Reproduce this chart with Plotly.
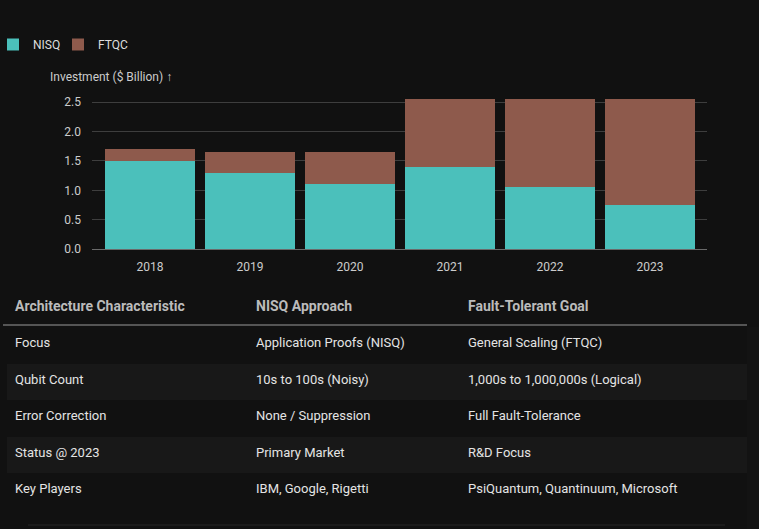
import plotly.graph_objects as go

W, H = 759, 529

years = ["2018", "2019", "2020", "2021", "2022", "2023"]
nisq = [1.5, 1.3, 1.1, 1.4, 1.05, 0.75]
ftqc = [0.2, 0.35, 0.55, 1.15, 1.5, 1.8]
y_ticks = [0.0, 0.5, 1.0, 1.5, 2.0, 2.5]

table_header = ["Architecture Characteristic", "NISQ Approach", "Fault-Tolerant Goal"]
col_characteristic = ["Focus", "Qubit Count", "Error Correction", "Status @ 2023", "Key Players"]
col_nisq = ["Application Proofs (NISQ)", "10s to 100s (Noisy)", "None / Suppression",
            "Primary Market", "IBM, Google, Rigetti"]
col_ftqc = ["General Scaling (FTQC)", "1,000s to 1,000,000s (Logical)", "Full Fault-Tolerance",
            "R&amp;D Focus", "PsiQuantum, Quantinuum, Microsoft"]

BG = "#111111"
ALT = "#181818"
TEAL = "#4BC0BB"
BROWN = "#8E5A4C"
FONT = "Roboto, Open Sans, sans-serif"

def px_x(p):
    return p / W

def px_y(p):
    return (H - p) / H

def styled(col):
    return ["<span>%s</span>" % v for v in col]

fig = go.Figure()
fig.add_trace(go.Bar(x=years, y=nisq, name="NISQ", legend="legend",
                     marker=dict(color=TEAL, line=dict(width=0))))
fig.add_trace(go.Bar(x=years, y=ftqc, name="FTQC", legend="legend2",
                     marker=dict(color=BROWN, line=dict(width=0))))

row_fills = [BG if i % 2 == 0 else ALT for i in range(len(col_characteristic))]
fig.add_trace(go.Table(
    domain=dict(x=[px_x(7), px_x(747)], y=[px_y(529), px_y(290)]),
    columnwidth=[241, 212, 287],
    header=dict(values=["<b>%s</b>" % h for h in table_header],
                fill_color=BG, line=dict(color=BG, width=0),
                font=dict(family=FONT, size=14, color="#BBBBBB"),
                align="left", height=37),
    cells=dict(values=[styled(col_characteristic), styled(col_nisq), styled(col_ftqc)],
               fill_color=[row_fills] * 3, line=dict(color=BG, width=0),
               font=dict(family=FONT, size=13, color="#E4E4E4"),
               align="left", height=36.5),
))

legend_style = dict(orientation="h", y=px_y(30), xanchor="left", yanchor="top",
                    font=dict(size=12, color="#DDDDDD"), bgcolor="rgba(0,0,0,0)",
                    itemclick=False)

y0 = 249
ppu = 58.7
top_val = 2.7
fig.update_layout(
    width=W, height=H,
    margin=dict(l=0, r=0, t=0, b=0, autoexpand=False),
    paper_bgcolor=BG, plot_bgcolor=BG,
    barmode="stack", bargap=0.1,
    font=dict(family=FONT, size=12, color="#CCCCCC"),
    showlegend=True,
    legend=dict(x=px_x(-7), **legend_style),
    legend2=dict(x=px_x(58), **legend_style),
    xaxis=dict(domain=[px_x(92), px_x(707)], range=[-0.58, 5.57], showgrid=False,
               showline=False, ticks="", tickfont=dict(size=12, color="#CCCCCC"),
               ticklabelstandoff=9,
               zeroline=False, fixedrange=True, automargin=False),
    yaxis=dict(domain=[px_y(y0), px_y(y0 - top_val * ppu)], range=[0, top_val],
               tickvals=y_ticks, ticktext=["%.1f" % v for v in y_ticks],
               showgrid=True, gridcolor="#3E3E3E", gridwidth=1,
               zeroline=True, zerolinecolor="#6A6A6A", zerolinewidth=1,
               ticks="", ticklabelstandoff=10, automargin=False,
               tickfont=dict(size=12, color="#CCCCCC"), showline=False, fixedrange=True),
    annotations=[dict(text="Investment ($ Billion) ↑", xref="paper", yref="paper",
                      x=px_x(48), y=px_y(77), xanchor="left", yanchor="middle",
                      showarrow=False, font=dict(size=12, color="#CCCCCC"))],
    shapes=[
        dict(type="line", xref="paper", yref="paper", x0=px_x(3), x1=px_x(747),
             y0=px_y(325), y1=px_y(325), line=dict(color="#9A9A9A", width=1)),
        dict(type="line", xref="paper", yref="paper", x0=px_x(28), x1=px_x(725),
             y0=px_y(525), y1=px_y(525), line=dict(color="#262626", width=1)),
    ],
)

fig.write_html("out.html")
